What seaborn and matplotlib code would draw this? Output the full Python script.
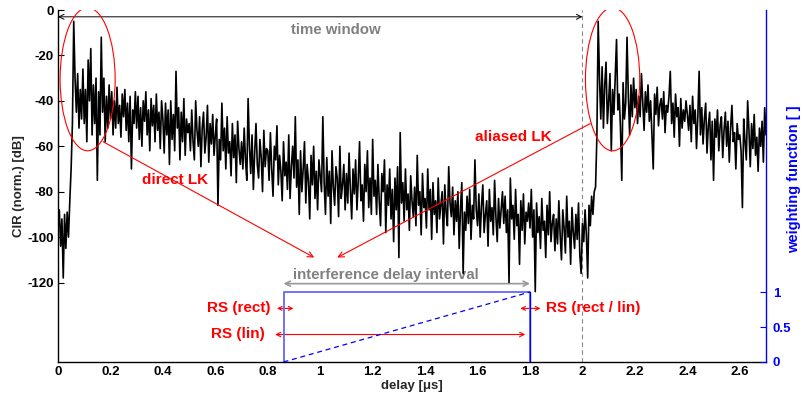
import numpy as np
import pandas as pd
import matplotlib
matplotlib.use("Agg")
import matplotlib.pyplot as plt
from matplotlib.patches import Ellipse
import seaborn as sns

# ---------------- data ----------------
delay_step = 0.005  # µs between samples
cir_db = [
    # 0.00 - 0.095
    -95, -88, -104, -92, -118, -90, -105, -89, -100, -84, -70, -50, -5, -30, -45, -28, -52, -35, -48, -26,
    # 0.10
    -50, -35, -58, -22, -40, -17, -55, -33, -50, -30, -75, -36, -55, -12, -45, -30, -58, -38, -52, -33,
    # 0.20
    -48, -36, -55, -40, -52, -34, -50, -42, -56, -37, -47, -35, -53, -41, -58, -38, -70, -44, -50, -36,
    # 0.30
    -52, -38, -57, -43, -60, -40, -49, -36, -55, -44, -62, -39, -51, -42, -58, -37, -53, -45, -61, -40,
    # 0.40
    -48, -63, -41, -55, -44, -68, -40, -57, -46, -62, -27, -52, -43, -66, -45, -58, -39, -64, -48, -54,
    # 0.50
    -50, -62, -44, -58, -66, -40, -53, -60, -47, -69, -52, -45, -63, -56, -42, -67, -50, -59, -46, -64,
    # 0.60
    -55, -48, -86, -57, -66, -41, -62, -52, -70, -47, -63, -58, -73, -50, -65, -55, -76, -49, -61, -68,
    # 0.70
    -58, -70, -52, -66, -75, -39, -60, -72, -55, -79, -63, -50, -68, -74, -57, -65, -80, -53, -69, -61,
    # 0.80
    -62, -75, -54, -70, -82, -60, -66, -51, -77, -64, -71, -84, -58, -73, -67, -79, -55, -83, -69, -60,
    # 0.90
    -74, -47, -78, -66, -90, -62, -80, -70, -58, -85, -68, -75, -92, -64, -77, -60, -83, -71, -88, -66,
    # 1.00
    -73, -80, -47, -76, -90, -65, -82, -71, -94, -62, -78, -86, -69, -74, -91, -60, -83, -77, -68, -88,
    # 1.10
    -72, -85, -63, -79, -92, -70, -81, -66, -88, -75, -58, -84, -77, -93, -68, -80, -62, -87, -74, -90,
    # 1.20
    -57, -82, -75, -90, -68, -84, -95, -72, -80, -66, -98, -77, -86, -70, -92, -79, -102, -74, -88, -69,
    # 1.30
    -109, -54, -85, -76, -93, -70, -88, -81, -97, -73, -84, -91, -78, -95, -64, -86, -80, -99, -72, -87,
    # 1.40
    -83, -96, -70, -88, -79, -101, -76, -90, -84, -98, -74, -92, -86, -80, -103, -77, -89, -95, -69, -85,
    # 1.50
    -91, -78, -99, -84, -93, -80, -105, -87, -76, -116, -89, -97, -82, -94, -79, -101, -86, -92, -66, -88,
    # 1.60
    -95, -81, -100, -86, -77, -98, -90, -84, -104, -79, -93, -87, -99, -75, -91, -102, -83, -96, -88, -80,
    # 1.70
    -94, -82, -98, -88, -120, -74, -92, -86, -101, -79, -95, -90, -112, -84, -97, -81, -103, -89, -93, -85,
    # 1.80
    -96, -79, -100, -88, -124, -85, -98, -91, -105, -83, -97, -93, -109, -86, -99, -80, -102, -94, -90, -106,
    # 1.90
    -92, -103, -84, -99, -110, -88, -96, -107, -82, -100, -93, -112, -87, -98, -105, -90, -101, -85, -108, -116,
    # 2.00
    -94, -102, -88, -99, -118, -86, -95, -82, -90, -80, -78, -56, -5, -30, -48, -25, -52, -33, -23, -50,
    # 2.10
    -40, -28, -62, -35, -46, -30, -13, -44, -37, -52, -75, -32, -48, -41, -12, -38, -55, -33, -47, -30,
    # 2.20
    -43, -35, -50, -38, -47, -28, -41, -53, -36, -45, -33, -49, -40, -55, -70, -37, -46, -34, -51, -42,
    # 2.30
    -39, -48, -36, -54, -42, -45, -38, -27, -50, -41, -56, -37, -47, -43, -60, -39, -52, -44, -49, -40,
    # 2.40
    -46, -53, -42, -58, -38, -50, -44, -61, -47, -27, -55, -43, -59, -48, -41, -63, -51, -45, -66, -49,
    # 2.50
    -75, -48, -56, -44, -62, -51, -47, -65, -53, -45, -60, -49, -67, -52, -42, -58, -54, -70, -50, -57,
    # 2.60
    -55, -62, -87, -48, -58, -66, -40, -53, -69, -50, -61, -46, -64, -56, -71, -52, -60, -49, -67, -43,
    # 2.70
    -55,
]
delay_us = np.arange(len(cir_db)) * delay_step

# weighting functions (right axis)
rect_delay = [0.86, 0.86, 1.8, 1.8]
rect_weight = [0, 1, 1, 0]
lin_delay = [0.86, 1.8]
lin_weight = [0, 1]
lin_drop_delay = [1.8, 1.8]
lin_drop_weight = [1, 0]

interval_start, interval_end = 0.86, 1.8
window_end = 2.0

x_ticks = [0, 0.2, 0.4, 0.6, 0.8, 1, 1.2, 1.4, 1.6, 1.8, 2, 2.2, 2.4, 2.6]
x_ticklabels = ["0", "0.2", "0.4", "0.6", "0.8", "1", "1.2", "1.4", "1.6", "1.8", "2", "2.2", "2.4", "2.6"]
y_ticks = [0, -20, -40, -60, -80, -100, -120]
y_ticklabels = ["0", "-20", "-40", "-60", "-80", "-100", "-120"]
w_ticks = [0, 0.5, 1]
w_ticklabels = ["0", "0.5", "1"]

# ---------------- style ----------------
sns.set_theme(style="white")
plt.rcParams["font.family"] = ["Liberation Sans", "DejaVu Sans"]
plt.rcParams["font.weight"] = "bold"

fig = plt.figure(figsize=(8.03, 3.99), dpi=100)
ax = fig.add_axes([58 / 803, 37 / 399, (766 - 58) / 803, (362 - 10) / 399])

df = pd.DataFrame({"delay": delay_us, "cir": cir_db})
sns.lineplot(data=df, x="delay", y="cir", ax=ax, color="black", linewidth=1.2,
             estimator=None, sort=False, zorder=3)

ax.set_xlim(0, 2.7)
ax.set_ylim(-155, 0)
ax.set_xticks(x_ticks)
ax.set_xticklabels(x_ticklabels)
ax.set_yticks(y_ticks)
ax.set_yticklabels(y_ticklabels)
ax.tick_params(direction="in", length=4, width=0.8, labelsize=9.5, colors="black", pad=3)
for lab in ax.get_xticklabels() + ax.get_yticklabels():
    lab.set_fontweight("bold")
ax.set_xlabel("delay [\u03bcs]", fontsize=9.5, fontweight="bold", labelpad=1)
ax.set_ylabel("CIR (norm.) [dB]", fontsize=9.5, fontweight="bold")
ax.yaxis.label.set_rotation_mode("default")
ax.yaxis.label.set_verticalalignment("center")
ax.yaxis.label.set_horizontalalignment("center")
ax.yaxis.set_label_coords(-0.055, 0.5)
for s in ["top", "right"]:
    ax.spines[s].set_visible(False)
for s in ["left", "bottom"]:
    ax.spines[s].set_color("black")
    ax.spines[s].set_linewidth(1.0)

# time window
ax.axvline(window_end, color="#888888", linestyle="--", linewidth=0.8, dashes=(4, 3), zorder=2)
ax.annotate("", xy=(0, -3), xytext=(window_end, -3),
            arrowprops=dict(arrowstyle="<->", color="black", lw=0.7, mutation_scale=9,
                            shrinkA=0, shrinkB=0), zorder=4)
ax.text(1.06, -8.8, "time window", color="#808080", fontsize=10.8, fontweight="bold",
        ha="center", va="center")

# ellipses
ax.add_patch(Ellipse((0.113, -30.5), 0.21, 63, fill=False, edgecolor="red", lw=0.8, zorder=5))
ax.add_patch(Ellipse((2.115, -30.5), 0.207, 63, fill=False, edgecolor="red", lw=0.8, zorder=5))

# LK arrows
ax.annotate("", xy=(0.977, -109), xytext=(0.172, -58),
            arrowprops=dict(arrowstyle="->", color="red", lw=0.8, mutation_scale=10,
                            shrinkA=0, shrinkB=0), zorder=5)
ax.annotate("", xy=(1.065, -109), xytext=(2.03, -50),
            arrowprops=dict(arrowstyle="->", color="red", lw=0.8, mutation_scale=10,
                            shrinkA=0, shrinkB=0), zorder=5)
ax.text(0.445, -74.7, "direct LK", color="red", fontsize=11, fontweight="bold",
        ha="center", va="center")
ax.text(1.735, -56, "aliased LK", color="red", fontsize=11, fontweight="bold",
        ha="center", va="center")

# interference delay interval
ax.annotate("", xy=(interval_start, -120.5), xytext=(interval_end, -120.5),
            arrowprops=dict(arrowstyle="<->", color="#999999", lw=1.2, mutation_scale=9,
                            shrinkA=0, shrinkB=0), zorder=2)
ax.text(1.252, -116.5, "interference delay interval", color="#808080", fontsize=10.8,
        fontweight="bold", ha="center", va="center", zorder=2)

# RS annotations
ax.annotate("", xy=(0.835, -131.4), xytext=(0.898, -131.4),
            arrowprops=dict(arrowstyle="<->", color="red", lw=0.8, mutation_scale=7,
                            shrinkA=0, shrinkB=0), zorder=5)
ax.annotate("", xy=(1.763, -131.4), xytext=(1.84, -131.4),
            arrowprops=dict(arrowstyle="<->", color="red", lw=0.8, mutation_scale=7,
                            shrinkA=0, shrinkB=0), zorder=5)
ax.annotate("", xy=(0.828, -142.9), xytext=(1.782, -142.9),
            arrowprops=dict(arrowstyle="<->", color="red", lw=0.8, mutation_scale=8,
                            shrinkA=0, shrinkB=0), zorder=5)
ax.text(0.809, -131.2, "RS (rect)", color="red", fontsize=11, fontweight="bold",
        ha="right", va="center")
ax.text(1.862, -131.2, "RS (rect / lin)", color="red", fontsize=11, fontweight="bold",
        ha="left", va="center")
ax.text(0.79, -142.7, "RS (lin)", color="red", fontsize=11, fontweight="bold",
        ha="right", va="center")

# ---------------- right axis: weighting function ----------------
ax2 = ax.twinx()
sns.lineplot(x=rect_delay, y=rect_weight, ax=ax2, color="#6464ff", linewidth=1.3,
             estimator=None, sort=False)
sns.lineplot(x=lin_delay, y=lin_weight, ax=ax2, color="blue", linewidth=0.9,
             estimator=None, sort=False, linestyle=(0, (4, 3)))
sns.lineplot(x=lin_drop_delay, y=lin_drop_weight, ax=ax2, color="blue", linewidth=1.0,
             estimator=None, sort=False)
ax2.set_ylim(0, 5.03)
ax2.set_xlim(0, 2.7)
ax2.set_yticks(w_ticks)
ax2.set_yticklabels(w_ticklabels)
ax2.tick_params(axis="y", direction="in", length=4, width=0.8, labelsize=9.5,
                colors="blue", pad=5)
for lab in ax2.get_yticklabels():
    lab.set_fontweight("bold")
ax2.set_ylabel("weighting function [ ]", color="blue", fontsize=10.5, fontweight="bold")
ax2.yaxis.label.set_rotation_mode("default")
ax2.yaxis.label.set_verticalalignment("center")
ax2.yaxis.label.set_horizontalalignment("center")
ax2.yaxis.set_label_coords(1.039, 0.52)
ax2.spines["right"].set_color("blue")
ax2.spines["right"].set_linewidth(1.0)
for s in ["top", "left", "bottom"]:
    ax2.spines[s].set_visible(False)

fig.savefig("out.png", dpi=100)
